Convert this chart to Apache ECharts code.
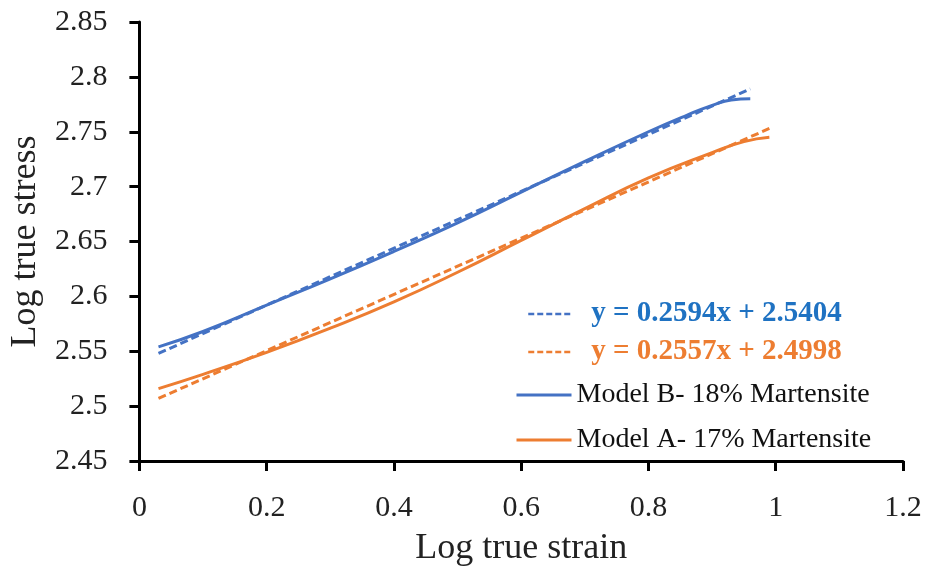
<!DOCTYPE html>
<html>
<head>
<meta charset="utf-8">
<script src="https://cdn.jsdelivr.net/npm/echarts@6/dist/echarts.min.js"></script>
<style>
  html, body { margin: 0; padding: 0; background: #fff; }
  #chart { width: 929px; height: 572px; }
</style>
</head>
<body>
<div id="chart"></div>
<script>
// values
const strainB = [0.03, 0.1, 0.2, 0.3, 0.4, 0.5, 0.6, 0.7, 0.8, 0.86, 0.9, 0.93, 0.96]
const stressB = [2.554, 2.568, 2.592, 2.616, 2.641, 2.667, 2.695, 2.723, 2.750, 2.765, 2.774, 2.779, 2.780]

const strainA = [0.03, 0.1, 0.2, 0.3, 0.4, 0.5, 0.6, 0.7, 0.8, 0.9, 0.95, 0.99]
const stressA = [2.516, 2.529, 2.549, 2.571, 2.595, 2.622, 2.651, 2.680, 2.708, 2.731, 2.741, 2.745]

// trend line end points
const fitStrainB = [0.03, 0.96]
const fitStressB = [2.548, 2.789]
const fitStrainA = [0.03, 0.99]
const fitStressA = [2.507, 2.753]

const xTicks = [0, 0.2, 0.4, 0.6, 0.8, 1, 1.2]
const yTicks = [2.45, 2.5, 2.55, 2.6, 2.65, 2.7, 2.75, 2.8, 2.85]

const NAME_FIT_B = 'y = 0.2594x + 2.5404'
const NAME_FIT_A = 'y = 0.2557x + 2.4998'
const NAME_B = 'Model B- 18% Martensite'
const NAME_A = 'Model A- 17% Martensite'

const BLUE = '#4472C4'
const ORANGE = '#ED7D31'
const FONT = '"Liberation Serif", "Times New Roman", serif'

const pairs = (xs, ys) => xs.map((x, i) => [x, ys[i]])

const axisCommon = {
  axisLine: { show: true, onZero: false, lineStyle: { color: '#000', width: 3 } },
  axisTick: { show: true, inside: false, length: 10, lineStyle: { color: '#000', width: 3 } },
  splitLine: { show: false },
  axisLabel: { color: '#222', fontFamily: FONT, fontSize: 30 },
  nameTextStyle: { color: '#222', fontFamily: FONT, fontSize: 36 }
}

const eqText = (color) => ({
  color: color, fontWeight: 'bold', fontFamily: FONT, fontSize: 29, lineHeight: 30, padding: [0, 0, 0, 13]
})
const modelText = { color: '#111', fontFamily: FONT, fontSize: 28, lineHeight: 30 }

const chart = echarts.init(document.getElementById('chart'))

chart.setOption({
  backgroundColor: '#fff',
  animation: false,
  grid: { left: 138, right: 26, top: 22, bottom: 103, containLabel: false },
  xAxis: Object.assign({}, axisCommon, {
    type: 'value',
    min: xTicks[0],
    max: xTicks[xTicks.length - 1],
    interval: 0.2,
    name: 'Log true strain',
    nameLocation: 'middle',
    nameGap: 70,
    axisLabel: Object.assign({}, axisCommon.axisLabel, { margin: 32 })
  }),
  yAxis: Object.assign({}, axisCommon, {
    type: 'value',
    min: yTicks[0],
    max: yTicks[yTicks.length - 1],
    interval: 0.05,
    name: 'Log true stress',
    nameLocation: 'middle',
    nameRotate: 90,
    nameGap: 92,
    axisLabel: Object.assign({}, axisCommon.axisLabel, { margin: 32 })
  }),
  legend: [
    {
      orient: 'vertical',
      left: 522,
      top: 294,
      itemWidth: 45,
      itemHeight: 14,
      itemGap: 8,
      itemStyle: { opacity: 0 },
      lineStyle: { width: 2.5, type: [6, 3] },
      data: [
        { name: NAME_FIT_B, textStyle: eqText('#1F72C2') },
        { name: NAME_FIT_A, textStyle: eqText(ORANGE) }
      ]
    },
    {
      orient: 'vertical',
      left: 510,
      top: 375,
      itemWidth: 55,
      itemHeight: 14,
      itemGap: 15,
      itemStyle: { opacity: 0 },
      lineStyle: { width: 3 },
      data: [
        { name: NAME_B, textStyle: modelText },
        { name: NAME_A, textStyle: modelText }
      ]
    }
  ],
  series: [
    {
      name: NAME_FIT_B,
      type: 'line',
      data: pairs(fitStrainB, fitStressB),
      showSymbol: false,
      symbol: 'none',
      lineStyle: { color: BLUE, width: 3, type: [8, 4] },
      itemStyle: { color: BLUE },
      z: 3
    },
    {
      name: NAME_FIT_A,
      type: 'line',
      data: pairs(fitStrainA, fitStressA),
      showSymbol: false,
      symbol: 'none',
      lineStyle: { color: ORANGE, width: 3, type: [8, 4] },
      itemStyle: { color: ORANGE },
      z: 3
    },
    {
      name: NAME_B,
      type: 'line',
      data: pairs(strainB, stressB),
      smooth: true,
      showSymbol: false,
      symbol: 'none',
      lineStyle: { color: BLUE, width: 3 },
      itemStyle: { color: BLUE },
      z: 2
    },
    {
      name: NAME_A,
      type: 'line',
      data: pairs(strainA, stressA),
      smooth: true,
      showSymbol: false,
      symbol: 'none',
      lineStyle: { color: ORANGE, width: 3 },
      itemStyle: { color: ORANGE },
      z: 2
    }
  ]
})
</script>
</body>
</html>
